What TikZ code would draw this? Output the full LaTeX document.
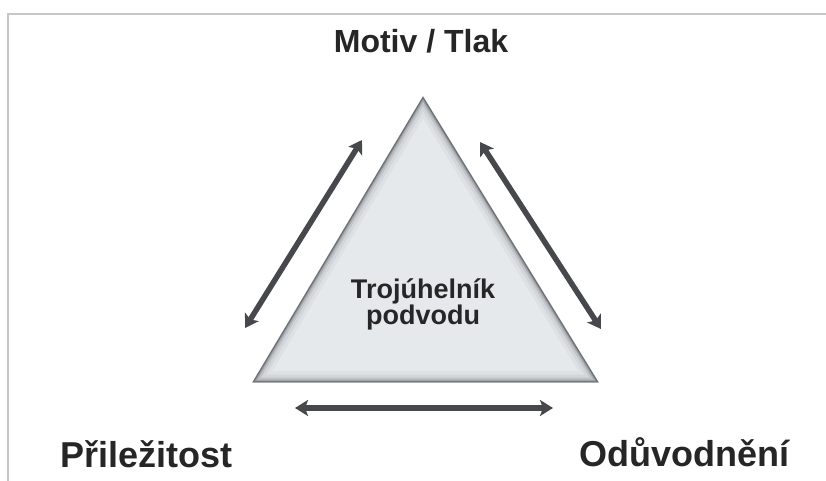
\documentclass[tikz,border=0pt]{standalone}
\usepackage{fontspec}
\setmainfont{Liberation Sans}
\usetikzlibrary{arrows.meta}

\definecolor{framegray}{HTML}{C6C6C6}
\definecolor{arrowgray}{HTML}{46484C}
\definecolor{trifill}{HTML}{E6E9EC}
\definecolor{triedge}{HTML}{505459}
\definecolor{labeltext}{HTML}{262626}

\begin{document}
\begin{tikzpicture}[x=1pt,y=-1pt,
  cornerlabel/.style={font=\fontsize{36}{40}\selectfont\bfseries, text=labeltext, inner sep=0pt},
  toplabel/.style={font=\fontsize{32}{36}\selectfont\bfseries, text=labeltext, inner sep=0pt},
  centerlabel/.style={font=\fontsize{27}{26}\selectfont\bfseries, text=labeltext, inner sep=0pt, align=center},
  link/.style={draw=arrowgray, line width=5.5pt,
    {Stealth[length=13pt,width=16pt,inset=3pt]}-{Stealth[length=13pt,width=16pt,inset=3pt]}}
]
\useasboundingbox (0,0) rectangle (826,480);
\fill[white] (0,0) rectangle (826,480);

% thin page frame on the top and left
\draw[framegray, line width=2pt] (8,481) -- (8,14) -- (827,14);

% the triangle with darker, softened edges
\coordinate (apex) at (423,97);
\coordinate (bl) at (253,382);
\coordinate (br) at (598,382);
\fill[trifill] (apex) -- (bl) -- (br) -- cycle;
\begin{scope}
  \clip (apex) -- (bl) -- (br) -- cycle;
  \foreach \w/\o in {22/0.05, 15/0.08, 9/0.14, 5/0.24, 2.5/0.4}
    \draw[triedge, line width=\w pt, opacity=\o, line join=miter] (apex) -- (bl) -- (br) -- cycle;
\end{scope}
\draw[triedge, line width=1pt, opacity=0.6, line join=miter] (apex) -- (bl) -- (br) -- cycle;

% labels
\node[toplabel, anchor=base] (motiv) at (421,52) {Motiv / Tlak};
\node[cornerlabel, anchor=base west] (prilezitost) at (60,467) {Přiležitost};
\node[cornerlabel, anchor=base east] (oduvodneni) at (790,466) {Odůvodnění};
\node[centerlabel] (trojuhelnik) at (423,304) {Trojúhelník\\podvodu};

% double-headed arrows along the three sides
\coordinate (l1) at (245,328);
\coordinate (l2) at (362,140);
\coordinate (r1) at (480,142);
\coordinate (r2) at (601,329);
\coordinate (b1) at (295,408);
\coordinate (b2) at (553,408);
\draw[link] (l1) -- (l2);
\draw[link] (r1) -- (r2);
\draw[link] (b1) -- (b2);
\end{tikzpicture}
\end{document}
